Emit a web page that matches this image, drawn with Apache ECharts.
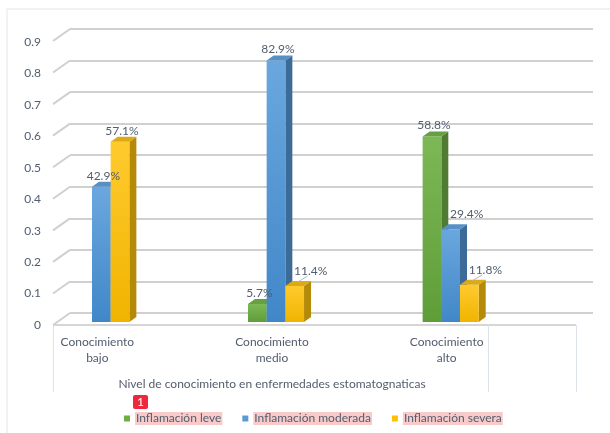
<!DOCTYPE html>
<html>
<head>
<meta charset="utf-8">
<script src="https://cdn.jsdelivr.net/npm/echarts@6/dist/echarts.min.js"></script>
<style>
  html, body { margin: 0; padding: 0; background: #fff; }
  #chart { width: 610px; height: 433px; }
</style>
</head>
<body>
<div id="chart"></div>
<script>
// datos
const categories = ['Conocimiento bajo', 'Conocimiento medio', 'Conocimiento alto'];
const seriesNames = ['Inflamación leve', 'Inflamación moderada', 'Inflamación severa'];
const leve = [null, 0.057, 0.588];
const moderada = [0.429, 0.829, 0.294];
const severa = [0.571, 0.114, 0.118];
const yTicks = [0, 0.1, 0.2, 0.3, 0.4, 0.5, 0.6, 0.7, 0.8, 0.9];
const axisTitle = 'Nivel de conocimiento en enfermedades estomatognaticas';

const textColor = '#525d6e';
const font = 'Lato, "Liberation Sans", sans-serif';

// colores: frente (arriba, abajo), lateral, techo
const palette = [
    { base: '#70ad47', front: ['#7cb956', '#5f9d39'], side: '#4f7b32', top: '#66a043' },
    { base: '#5b9bd5', front: ['#6aa7de', '#4187c8'], side: '#3d6b98', top: '#5790c6' },
    { base: '#ffc000', front: ['#ffca2e', '#f0b400'], side: '#b58a08', top: '#dcaa16' }
];
const allValues = [leve, moderada, severa];
const DX = 7, DY = -5;

function barGeom(api, catIdx, sIdx, v) {
    const base = api.coord([catIdx, 0]);
    const top = api.coord([catIdx, v]);
    const band = api.size([1, 0])[0];
    const w = band * 0.107;
    const x0 = base[0] + (sIdx - 1.5) * w;
    return { x0, w, top: top[1], bottom: base[1] };
}

function renderBar(params, api) {
    const v = api.value(1);
    if (v == null || isNaN(v) || v === 0) return null;
    const s = params.seriesIndex;
    const c = palette[s];
    const g = barGeom(api, api.value(0), s, v);
    const x1 = g.x0 + g.w;
    return {
        type: 'group',
        children: [
            {
                type: 'polygon',
                shape: { points: [[x1, g.top], [x1 + DX, g.top + DY], [x1 + DX, g.bottom + DY], [x1, g.bottom]] },
                style: { fill: c.side }
            },
            {
                type: 'rect',
                shape: { x: g.x0, y: g.top, width: g.w, height: g.bottom - g.top },
                style: {
                    fill: { type: 'linear', x: 0, y: 0, x2: 0, y2: 1,
                        colorStops: [{ offset: 0, color: c.front[0] }, { offset: 1, color: c.front[1] }] }
                }
            },
            {
                type: 'polygon',
                shape: { points: [[g.x0, g.top], [g.x0 + DX, g.top + DY], [x1 + DX, g.top + DY], [x1, g.top]] },
                style: { fill: c.top }
            }
        ]
    };
}

// etiquetas: si la barra de la izquierda es más alta, se corre a la derecha
function renderLabel(params, api) {
    const v = api.value(1);
    if (v == null || isNaN(v) || v === 0) return null;
    const cat = api.value(0);
    const s = api.value(2);
    const g = barGeom(api, cat, s, v);
    const left = s > 0 ? allValues[s - 1][cat] : null;
    const shifted = left != null && left > v;
    const cx = g.x0 + g.w / 2 + (shifted ? 16 : 2);
    const ty = g.top - (shifted ? 9 : 5);
    const children = [{
        type: 'text',
        style: {
            text: (v * 100).toFixed(1) + '%',
            x: cx, y: ty,
            align: 'center', verticalAlign: 'bottom',
            fill: textColor, font: '12px ' + font
        }
    }];
    if (shifted && s === allValues.length - 1) {
        children.push({
            type: 'line',
            shape: { x1: g.x0 + g.w / 2 + 3, y1: g.top + DY + 1, x2: cx - 3, y2: ty - 1 },
            style: { stroke: '#b0b8c4', lineWidth: 1 }
        });
    }
    return { type: 'group', children };
}

function renderTick(params, api) {
    const p = api.coord([0, api.value(1)]);
    return {
        type: 'line',
        shape: { x1: p[0] - 17, y1: p[1] + 12, x2: p[0], y2: p[1] },
        style: { stroke: '#d0d0d0', lineWidth: 2 }
    };
}

const labelData = [];
allValues.forEach((arr, s) => arr.forEach((v, i) => labelData.push([i, v, s])));

const dom = document.getElementById('chart');
const chart = echarts.init(dom);

const option = {
    animation: false,
    textStyle: { fontFamily: font },
    grid: [
        { left: 14, right: 72, top: 38, bottom: 111 },   // barras
        { left: 70, right: 17, top: 29, bottom: 120 },   // plano de fondo
        { left: 53, right: 34, top: 42, bottom: 108 },   // etiquetas eje y
        { left: 10, right: 76, top: 42, bottom: 108 }    // etiquetas eje x
    ],
    xAxis: [
        { gridIndex: 0, type: 'category', data: categories, show: false },
        { gridIndex: 1, type: 'value', min: 0, max: 1, show: false },
        { gridIndex: 2, type: 'value', min: 0, max: 1, show: false },
        {
            gridIndex: 3, type: 'category', data: categories,
            axisLine: { show: false }, axisTick: { show: false },
            axisLabel: {
                color: textColor, fontSize: 12, lineHeight: 16, margin: 9,
                formatter: v => v.replace(' ', '\n')
            },
            name: axisTitle, nameLocation: 'middle', nameGap: 53,
            nameTextStyle: { color: textColor, fontSize: 12 }
        }
    ],
    yAxis: [
        { gridIndex: 0, type: 'value', min: 0, max: 0.9, show: false },
        {
            gridIndex: 1, type: 'value', min: 0, max: 0.9, interval: 0.1,
            axisLabel: { show: false }, axisLine: { show: false }, axisTick: { show: false },
            splitLine: { lineStyle: { color: '#d0d0d0', width: 2 } }
        },
        {
            gridIndex: 2, type: 'value', min: 0, max: 0.9, interval: 0.1,
            axisLine: { show: false }, axisTick: { show: false }, splitLine: { show: false },
            axisLabel: { color: textColor, fontSize: 12, margin: 12, formatter: v => String(+v.toFixed(1)) }
        },
        { gridIndex: 3, type: 'value', min: 0, max: 1, show: false }
    ],
    legend: {
        data: seriesNames,
        left: 119, top: 407,
        icon: 'rect', itemWidth: 6, itemHeight: 6, itemGap: 20,
        textStyle: { color: textColor, fontSize: 12, backgroundColor: '#f8caca', padding: [1, 1, 0, 1] }
    },
    graphic: [
        { type: 'rect', shape: { x: 7, y: 9, width: 700, height: 500 }, style: { fill: 'none', stroke: '#e4e4e4', lineWidth: 1 }, silent: true },
        { type: 'line', shape: { x1: 53, y1: 325, x2: 576, y2: 325 }, style: { stroke: '#d6d6d6', lineWidth: 2 }, z: 0 },
        { type: 'line', shape: { x1: 53.5, y1: 325, x2: 53.5, y2: 392 }, style: { stroke: '#dde3ea', lineWidth: 1 } },
        { type: 'line', shape: { x1: 488.5, y1: 325, x2: 488.5, y2: 392 }, style: { stroke: '#dde3ea', lineWidth: 1 } },
        { type: 'line', shape: { x1: 576.5, y1: 325, x2: 576.5, y2: 392 }, style: { stroke: '#dde3ea', lineWidth: 1 } },
        { type: 'rect', shape: { x: 133, y: 395, width: 15, height: 14, r: 2 }, style: { fill: '#f0263a' }, z: 10 },
        { type: 'text', style: { text: '1', x: 140.5, y: 402, align: 'center', verticalAlign: 'middle', fill: '#fff', font: '12px ' + font }, z: 11 }
    ],
    series: [
        ...allValues.map((arr, s) => ({
            name: seriesNames[s],
            type: 'custom',
            xAxisIndex: 0, yAxisIndex: 0,
            itemStyle: { color: palette[s].base },
            renderItem: renderBar,
            data: arr.map((v, i) => [i, v]),
            z: 3
        })),
        {
            type: 'custom', xAxisIndex: 0, yAxisIndex: 0,
            renderItem: renderLabel, data: labelData, z: 5, silent: true
        },
        {
            type: 'custom', xAxisIndex: 1, yAxisIndex: 1,
            renderItem: renderTick, data: yTicks.map(v => [0, v]), z: 1, silent: true
        }
    ]
};

chart.setOption(option);
</script>
</body>
</html>
